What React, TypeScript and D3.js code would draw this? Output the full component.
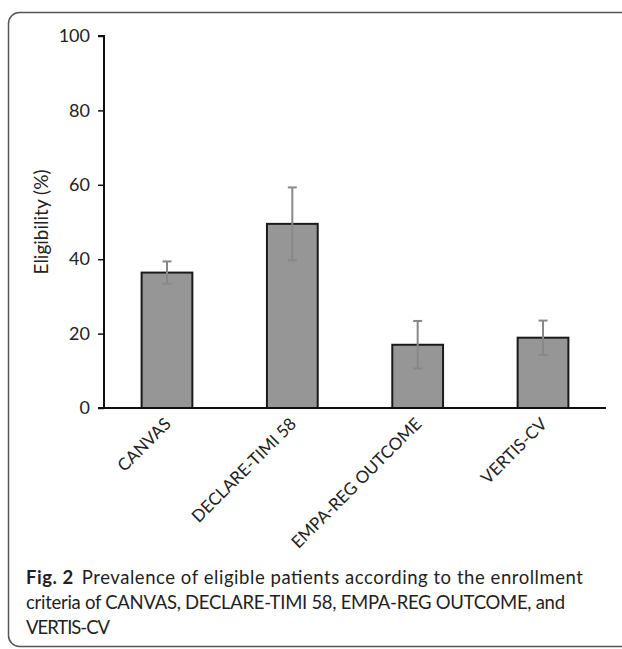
import React, { useEffect, useRef } from 'react';
import * as d3 from 'd3';

const trials = ['CANVAS', 'DECLARE-TIMI 58', 'EMPA-REG OUTCOME', 'VERTIS-CV'];
const eligibility = [36.4, 49.5, 17.0, 18.9];
const errorSize = [3.0, 9.8, 6.4, 4.6];
const yTicks = [0, 20, 40, 60, 80, 100];

const captionBold = ['Fig. 2', '', ''];
const captionText = [
  'Prevalence of eligible patients according to the enrollment',
  'criteria of CANVAS, DECLARE-TIMI 58, EMPA-REG OUTCOME, and',
  'VERTIS-CV',
];
const captionWidths = [557, 539, 84];

const W = 622;
const H = 649;
const FONT = 'Lato, "Open Sans", sans-serif';

export default function App() {
  const ref = useRef<SVGSVGElement>(null);

  useEffect(() => {
    const svg = d3.select(ref.current);
    svg.selectAll('*').remove();

    // frame around figure + caption (right side runs off the page)
    svg.append('rect')
      .attr('x', 8.5).attr('y', 12.5)
      .attr('width', 2000).attr('height', 634)
      .attr('rx', 11)
      .attr('fill', 'none')
      .attr('stroke', '#555')
      .attr('stroke-width', 1.5);

    const x = d3.scaleBand()
      .domain(trials)
      .range([104, 606])
      .paddingInner(0.595)
      .paddingOuter(0.3);

    const y = d3.scaleLinear().domain([0, 100]).range([408, 36]);

    // y axis
    const yAxis = svg.append('g')
      .attr('transform', 'translate(104,0)')
      .call(d3.axisLeft(y).tickValues(yTicks).tickSize(6).tickPadding(8));
    yAxis.select('.domain').attr('stroke', '#111').attr('stroke-width', 2)
      .attr('d', `M-6,${y(100)}H0V${y(0)}`);
    yAxis.selectAll('.tick line').attr('stroke', '#111').attr('stroke-width', 1.5);
    yAxis.selectAll('.tick text')
      .attr('font-family', FONT)
      .attr('font-size', 18)
      .attr('fill', '#222');

    // bars
    svg.append('g').selectAll('rect')
      .data(trials)
      .enter()
      .append('rect')
      .attr('x', (d) => x(d)!)
      .attr('y', (d, i) => y(eligibility[i]))
      .attr('width', x.bandwidth())
      .attr('height', (d, i) => y(0) - y(eligibility[i]))
      .attr('fill', '#969696')
      .attr('stroke', '#1a1a1a')
      .attr('stroke-width', 2);

    // x axis line
    svg.append('line')
      .attr('x1', 98).attr('x2', 606)
      .attr('y1', y(0)).attr('y2', y(0))
      .attr('stroke', '#111')
      .attr('stroke-width', 2);

    // error bars
    const err = svg.append('g').attr('stroke', '#888').attr('stroke-width', 2);
    trials.forEach((d, i) => {
      const cx = x(d)! + x.bandwidth() / 2;
      const hi = y(eligibility[i] + errorSize[i]);
      const lo = y(eligibility[i] - errorSize[i]);
      err.append('line').attr('x1', cx).attr('x2', cx).attr('y1', hi).attr('y2', lo);
      err.append('line').attr('x1', cx - 4.5).attr('x2', cx + 4.5).attr('y1', hi).attr('y2', hi);
      err.append('line').attr('x1', cx - 4.5).attr('x2', cx + 4.5).attr('y1', lo).attr('y2', lo);
    });

    // x labels, rotated
    svg.append('g').selectAll('text')
      .data(trials)
      .enter()
      .append('text')
      .attr('transform', (d) => `translate(${x(d)! + x.bandwidth() / 2 + 5},${y(0) + 17}) rotate(-45)`)
      .attr('text-anchor', 'end')
      .attr('font-family', FONT)
      .attr('font-size', 17)
      .attr('fill', '#222')
      .text((d) => d);

    // y title
    svg.append('text')
      .attr('transform', `translate(48,${(y(0) + y(100)) / 2}) rotate(-90)`)
      .attr('text-anchor', 'middle')
      .attr('font-family', FONT)
      .attr('font-size', 19)
      .attr('fill', '#222')
      .text('Eligibility (%)');

    // caption
    const cap = svg.append('g')
      .attr('font-family', FONT)
      .attr('font-size', 18.5)
      .attr('fill', '#231f20');
    captionText.forEach((line, i) => {
      const t = cap.append('text')
        .attr('x', 26)
        .attr('y', 584 + i * 25)
        .attr('textLength', captionWidths[i])
        .attr('lengthAdjust', 'spacing');
      if (captionBold[i]) {
        t.append('tspan').attr('font-weight', 'bold').text(captionBold[i]);
        t.append('tspan').attr('dx', 8).text(line);
      } else {
        t.text(line);
      }
    });
  }, []);

  return (
    <svg
      ref={ref}
      width={W}
      height={H}
      style={{ position: 'absolute', left: 0, top: 0, background: '#fff' }}
    />
  );
}
